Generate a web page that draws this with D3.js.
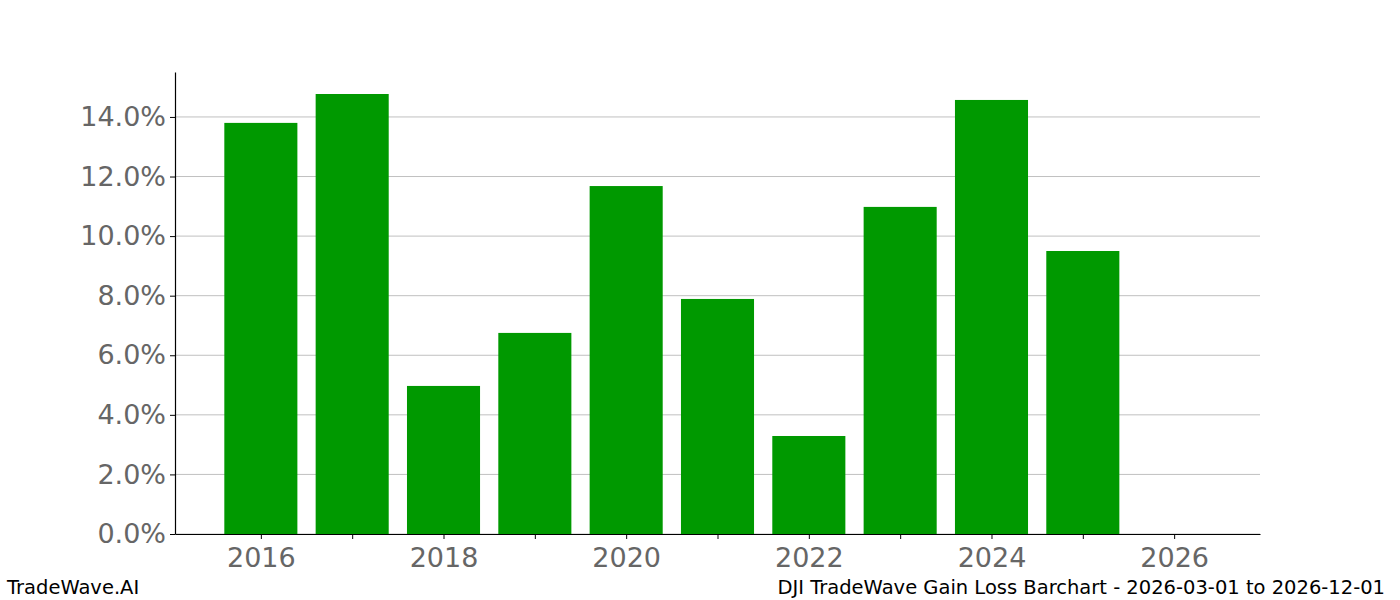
<!DOCTYPE html>
<html>
<head>
<meta charset="utf-8">
<script src="https://cdn.jsdelivr.net/npm/d3@7"></script>
<style>
  body { margin: 0; background: #fff; }
  text { font-family: "DejaVu Sans", sans-serif; }
</style>
</head>
<body>
<div id="chart"></div>
<script>
// Chart data
var years = [2016, 2017, 2018, 2019, 2020, 2021, 2022, 2023, 2024, 2025, 2026];
var gains = [13.80, 14.77, 4.97, 6.75, 11.68, 7.89, 3.29, 10.98, 14.57, 9.50, 0];
var yTicks = [0, 2, 4, 6, 8, 10, 12, 14];
var xLabelYears = [2016, 2018, 2020, 2022, 2024, 2026];

var svgWidth = 1400;
var svgHeight = 600;
var margin = { top: 72, right: 140, bottom: 66, left: 175 };
var width = svgWidth - margin.left - margin.right;
var height = svgHeight - margin.top - margin.bottom;

var svg = d3.select("#chart")
    .append("svg")
    .attr("width", svgWidth)
    .attr("height", svgHeight);

var chartGroup = svg.append("g")
    .attr("transform", `translate(${margin.left}, ${margin.top})`);

// bars span year-0.4 .. year+0.4, with 5% padding like matplotlib
var lo = d3.min(years) - 0.4, hi = d3.max(years) + 0.4;
var pad = (hi - lo) * 0.05;
var xScale = d3.scaleLinear()
    .domain([lo - pad, hi + pad])
    .range([0, width]);

var yScale = d3.scaleLinear()
    .domain([0, d3.max(gains) * 1.05])
    .range([height, 0]);

// grid lines
chartGroup.selectAll(".grid")
    .data(yTicks)
    .enter()
    .append("line")
    .attr("x1", 0)
    .attr("x2", width)
    .attr("y1", d => yScale(d))
    .attr("y2", d => yScale(d))
    .attr("stroke", "#c0c0c0")
    .attr("stroke-width", 1);

// bars
chartGroup.selectAll("rect")
    .data(years)
    .enter()
    .append("rect")
    .attr("x", d => xScale(d - 0.4))
    .attr("width", d => xScale(d + 0.4) - xScale(d - 0.4))
    .attr("y", (d, i) => yScale(gains[i]))
    .attr("height", (d, i) => height - yScale(gains[i]))
    .attr("fill", "#009900");

// axes
var bottomAxis = d3.axisBottom(xScale)
    .tickValues(years)
    .tickSize(5)
    .tickSizeOuter(0)
    .tickFormat(d => xLabelYears.indexOf(d) >= 0 ? d : "");

var leftAxis = d3.axisLeft(yScale)
    .tickValues(yTicks)
    .tickSize(5)
    .tickSizeOuter(0)
    .tickFormat(d => d.toFixed(1) + "%");

var xg = chartGroup.append("g")
    .attr("transform", `translate(0, ${height})`)
    .call(bottomAxis);

var yg = chartGroup.append("g")
    .call(leftAxis);

[xg, yg].forEach(function(g) {
    g.select(".domain").attr("stroke", "#000").attr("stroke-width", 1.2);
    g.selectAll(".tick line").attr("stroke", "#000");
    g.selectAll(".tick text")
        .attr("fill", "#666666")
        .style("font-size", "27px")
        .style("font-family", "DejaVu Sans");
});
xg.selectAll(".tick text").attr("y", 14);
yg.selectAll(".tick text").attr("x", -9);

// footer
svg.append("text")
    .attr("x", 7)
    .attr("y", 594)
    .style("font-size", "19.5px")
    .attr("fill", "#000")
    .text("TradeWave.AI");

svg.append("text")
    .attr("x", 1385)
    .attr("y", 594)
    .attr("text-anchor", "end")
    .style("font-size", "19.5px")
    .attr("fill", "#000")
    .text("DJI TradeWave Gain Loss Barchart - 2026-03-01 to 2026-12-01");
</script>
</body>
</html>
